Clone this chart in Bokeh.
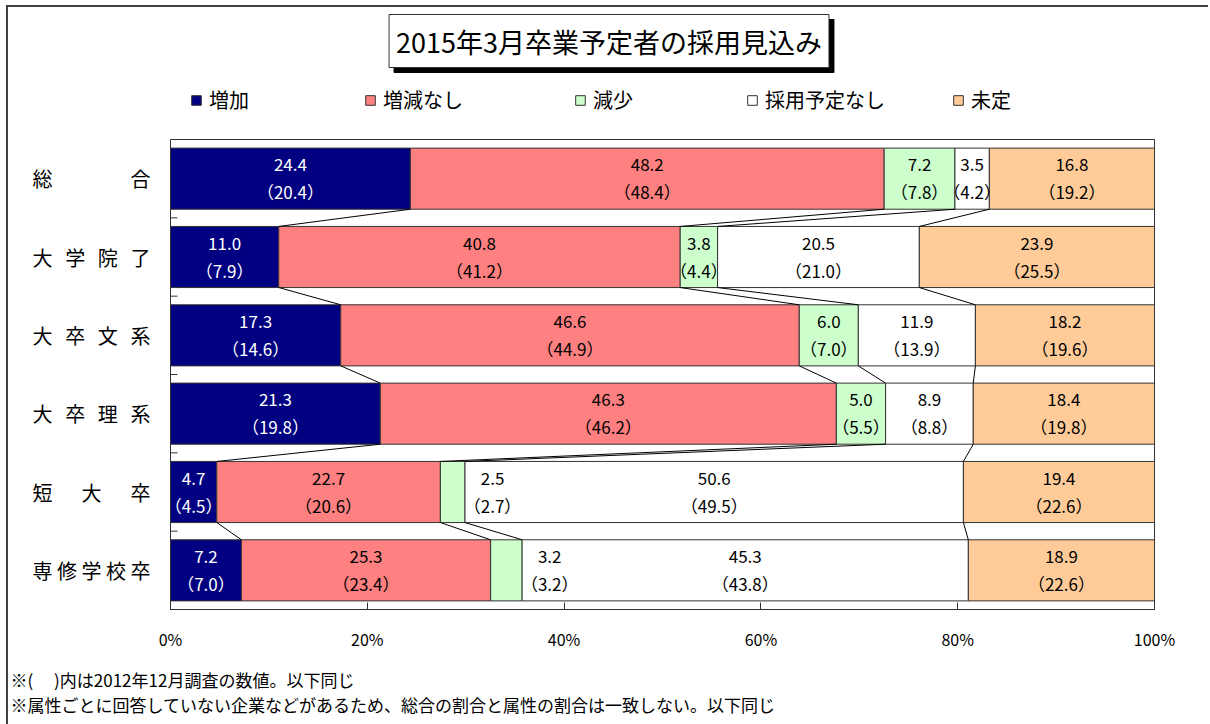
from bokeh.plotting import figure
from bokeh.models import (Range1d, FixedTicker, Label, Legend, LegendItem,
                          ColumnDataSource, Title)
from bokeh.core.properties import value
from bokeh.embed import file_html
from bokeh.resources import INLINE
import numpy as np

# ---------------- data ----------------
categories = ["総合", "大学院了", "大卒文系", "大卒理系", "短大卒", "専修学校卒"]
series_names = ["増加", "増減なし", "減少", "採用予定なし", "未定"]
series_colors = ["#000080", "#FF8080", "#CCFFCC", "#FFFFFF", "#FFCC99"]

zouka = [24.4, 11.0, 17.3, 21.3, 4.7, 7.2]
zougen_nashi = [48.2, 40.8, 46.6, 46.3, 22.7, 25.3]
genshou = [7.2, 3.8, 6.0, 5.0, 2.5, 3.2]
saiyou_yotei_nashi = [3.5, 20.5, 11.9, 8.9, 50.6, 45.3]
mitei = [16.8, 23.9, 18.2, 18.4, 19.4, 18.9]

prev_zouka = [20.4, 7.9, 14.6, 19.8, 4.5, 7.0]
prev_zougen_nashi = [48.4, 41.2, 44.9, 46.2, 20.6, 23.4]
prev_genshou = [7.8, 4.4, 7.0, 5.5, 2.7, 3.2]
prev_saiyou_yotei_nashi = [4.2, 21.0, 13.9, 8.8, 49.5, 43.8]
prev_mitei = [19.2, 25.5, 19.6, 19.8, 22.6, 22.6]

x_ticks = [0, 20, 40, 60, 80, 100]
x_tick_labels = ["0%", "20%", "40%", "60%", "80%", "100%"]

title_text = "2015年3月卒業予定者の採用見込み"
notes = ["※(　 )内は2012年12月調査の数値。以下同じ",
         "※属性ごとに回答していない企業などがあるため、総合の割合と属性の割合は一致しない。以下同じ"]

# ---------------- layout (page pixels) ----------------
JP = "Noto Sans CJK JP"
OX, OY = 8, 7                 # canvas origin on the page
W, H = 1202, 722
FL, FR, FT, FB = 170, 1154, 139, 609   # plot-area edges on the page
SX = (FR - FL) / 100.0        # px per percent
SY = (FB - FT) / 6.0          # px per category band


def dx(px):
    return (px - FL) / SX


def dy(py):
    return 5.5 - (py - FT) / SY


x_range = Range1d(dx(OX), dx(OX + W))
y_range = Range1d(-0.5, dy(OY))

p = figure(width=W, height=H, x_range=x_range, y_range=y_range,
           output_backend="svg", toolbar_location=None,
           min_border=0, min_border_bottom=OY + H - FB)
p.styles = {"border-left": "2px solid #404040", "border-top": "2px solid #404040",
            "margin-left": "6px", "margin-top": "5px", "margin-bottom": "-6px"}
p.grid.visible = False
p.outline_line_color = None
p.background_fill_color = "white"
p.border_fill_color = "white"
p.yaxis.visible = False

values = [zouka, zougen_nashi, genshou, saiyou_yotei_nashi, mitei]
prevs = [prev_zouka, prev_zougen_nashi, prev_genshou, prev_saiyou_yotei_nashi, prev_mitei]
vals = np.array(values, dtype=float).T            # rows = categories
totals = vals.sum(axis=1, keepdims=True)
norm = vals / totals * 100.0
cum = np.cumsum(norm, axis=1)
lefts = cum - norm
ys = np.array([5 - i for i in range(len(categories))], dtype=float)
BAR_H = 0.78

# plot-area border and category tick marks
p.quad(left=[0], right=[100], bottom=[-0.5], top=[5.5], fill_color=None,
       line_color="#333333", line_width=1)
yb = [0.5, 1.5, 2.5, 3.5, 4.5]
p.segment(x0=[0] * len(yb), y0=yb, x1=[7 / SX] * len(yb), y1=yb,
          line_color="#333333", line_width=1)

renderers = []
for k, name in enumerate(series_names):
    src = ColumnDataSource(dict(y=ys, left=lefts[:, k], right=cum[:, k]))
    r = p.hbar(y="y", left="left", right="right", height=BAR_H, source=src,
               fill_color=series_colors[k], line_color="#333333", line_width=1)
    renderers.append(r)

# series lines between bars
x0s, y0s, x1s, y1s = [], [], [], []
for i in range(len(categories) - 1):
    for k in range(4):
        x0s.append(cum[i, k]); y0s.append(ys[i] - BAR_H / 2)
        x1s.append(cum[i + 1, k]); y1s.append(ys[i + 1] + BAR_H / 2)
p.segment(x0=x0s, y0=y0s, x1=x1s, y1=y1s, line_color="#000000", line_width=1)

# data labels
lx, ly, vt, pt, col = [], [], [], [], []
for i in range(len(categories)):
    for k in range(5):
        w = norm[i, k]
        x = lefts[i, k] + w / 2
        if w <= 3.3 and i >= 4:
            x = cum[i, k] + 2.8
        lx.append(x); ly.append(ys[i])
        vt.append(f"{values[k][i]:.1f}")
        pt.append(f"（{prevs[k][i]:.1f}）")
        col.append("#FFFFFF" if k == 0 else "#000000")
lsrc = ColumnDataSource(dict(x=lx, y=ly, v=vt, p=pt, c=col))
p.text(x="x", y="y", text="v", source=lsrc, text_align="center", text_baseline="middle",
       text_color="c", text_font=value(JP), text_font_size="17px", y_offset=-14)
p.text(x="x", y="y", text="p", source=lsrc, text_align="center", text_baseline="middle",
       text_color="c", text_font=value(JP), text_font_size="17px", y_offset=13)

# category labels, justified between two page positions
cx, cy, ct = [], [], []
for i, cat in enumerate(categories):
    centers = np.linspace(42, 140, len(cat))
    for ch, c in zip(cat, centers):
        cx.append(dx(c)); cy.append(ys[i]); ct.append(ch)
p.text(x=cx, y=cy, text=ct, text_align="center", text_baseline="middle",
       text_font=value(JP), text_font_size="20px", text_color="#000000")

# x axis
xa = p.xaxis[0]
xa.bounds = (0, 100)
xa.ticker = FixedTicker(ticks=x_ticks)
xa.major_label_overrides = {t: l for t, l in zip(x_ticks, x_tick_labels)}
xa.major_tick_in = 7
xa.major_tick_out = 0
xa.minor_tick_line_color = None
xa.axis_line_color = "#333333"
xa.major_tick_line_color = "#333333"
xa.major_label_standoff = 17
xa.major_label_text_font = JP
xa.major_label_text_font_size = "16px"
xa.major_label_text_color = "#000000"

# title with drop shadow
tx, ty = dx(608.5), dy(40.5)
p.add_layout(Label(x=tx, y=ty, text=title_text, text_align="center", text_baseline="middle",
                   text_font=JP, text_font_size="27px", text_color="#000000",
                   background_fill_color="#000000", border_line_color="#000000",
                   padding=7, x_offset=5, y_offset=-5))
p.add_layout(Label(x=tx, y=ty, text=title_text, text_align="center", text_baseline="middle",
                   text_font=JP, text_font_size="27px", text_color="#000000",
                   background_fill_color="#FFFFFF", border_line_color="#333333",
                   border_line_width=1, padding=7))

# legend: one legend per item, positioned like the reference
leg_px = [190, 364, 574, 746, 952]
for k, name in enumerate(series_names):
    lg = Legend(items=[LegendItem(label=name, renderers=[renderers[k]])],
                location=(leg_px[k] - OX, FB - 90 - 24),
                orientation="horizontal", padding=0, margin=0, spacing=0,
                border_line_color=None, background_fill_alpha=0,
                glyph_width=12, glyph_height=12, label_standoff=7,
                label_text_font=JP, label_text_font_size="20px",
                label_text_color="#000000", label_height=24)
    p.add_layout(lg, "center")

# footnotes below the axis (one two-line block)
p.add_layout(Title(text="\n".join(notes), align="left", offset=2, text_font=JP,
                   text_font_size="17px", text_font_style="normal",
                   text_color="#000000", text_line_height=1.0, standoff=22), "below")

open("out.html", "w").write(file_html(p, INLINE))
